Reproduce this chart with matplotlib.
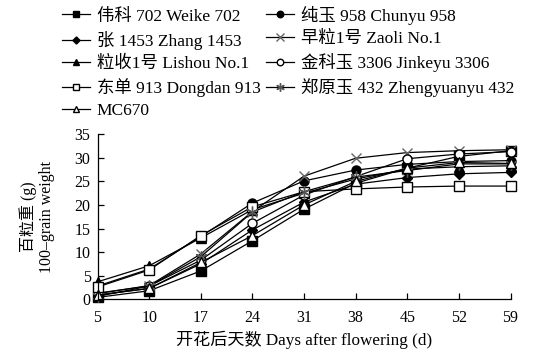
import numpy as np
import matplotlib
matplotlib.use("Agg")
import matplotlib.pyplot as plt

plt.rcParams['font.family'] = ['Liberation Serif', 'Noto Sans CJK SC', 'DejaVu Sans']

# days after flowering (categorical, evenly spaced on the axis)
days = ["5", "10", "17", "24", "31", "38", "45", "52", "59"]

# 100-grain weight (g) for each cultivar
weike702 = [0.4, 1.8, 6.0, 12.4, 19.1, 24.6, 27.8, 30.3, 31.5]
chunyu958 = [2.8, 6.4, 13.3, 20.4, 25.1, 27.4, 28.6, 29.2, 29.4]
zhang1453 = [0.9, 2.3, 7.5, 14.7, 20.6, 24.4, 25.8, 26.6, 26.9]
zaoli1 = [1.2, 2.9, 9.6, 18.6, 26.1, 29.9, 31.1, 31.5, 31.7]
lishou1 = [3.7, 7.1, 13.0, 19.0, 22.5, 25.5, 27.6, 28.1, 28.3]
jinkeyu3306 = [1.3, 2.8, 8.3, 16.1, 22.1, 26.0, 29.8, 30.8, 31.3]
dongdan913 = [2.6, 6.2, 13.5, 19.6, 22.8, 23.4, 23.8, 24.0, 24.0]
zhengyuanyu432 = [0.6, 2.8, 9.0, 18.5, 22.8, 25.9, 27.3, 28.7, 28.7]
mc670 = [0.9, 2.3, 7.8, 13.5, 20.0, 25.0, 27.8, 29.0, 28.8]

labels = ["伟科 702 Weike 702", "纯玉 958 Chunyu 958", "张 1453 Zhang 1453",
          "早粒1号 Zaoli No.1", "粒收1号 Lishou No.1", "金科玉 3306 Jinkeyu 3306",
          "东单 913 Dongdan 913", "郑原玉 432 Zhengyuanyu 432", "MC670"]
series = [weike702, chunyu958, zhang1453, zaoli1, lishou1, jinkeyu3306,
          dongdan913, zhengyuanyu432, mc670]

# marker style per cultivar: (marker, face, edge, size)
styles = [("s", "black", "black", 6.5),
          ("o", "black", "black", 6.5),
          ("D", "black", "black", 5),
          ("x", "none", "#666666", 7.5),
          ("^", "black", "black", 6.5),
          ("o", "white", "black", 6.5),
          ("s", "white", "black", 6.5),
          ((6, 2, 0), "none", "#555555", 8.5),
          ("^", "white", "black", 6.5)]

fig = plt.figure(figsize=(5.51, 3.55), dpi=100)
ax = fig.add_axes([0.177, 0.157, 0.7495, 0.465])

x = np.arange(len(days))
handles = []
for vals, lab, (m, fc, ec, ms) in zip(series, labels, styles):
    h, = ax.plot(x, vals, color="black", lw=0.9, marker=m, markersize=ms,
                 markerfacecolor=fc, markeredgecolor=ec, markeredgewidth=1.0,
                 label=lab, clip_on=False)
    handles.append(h)

ax.set_xlim(0, len(days) - 1)
ax.set_ylim(0, 35)
ax.set_xticks(x)
ax.set_xticklabels(days)
ax.set_yticks(np.arange(0, 36, 5))
for s in ["top", "right"]:
    ax.spines[s].set_visible(False)
for s in ["left", "bottom"]:
    ax.spines[s].set_linewidth(0.9)
ax.tick_params(axis="x", direction="in", length=4, width=0.9, pad=8, labelsize=11.5)
ax.tick_params(axis="y", direction="in", length=4, width=0.9, pad=5, labelsize=11.5)

ax.set_xlabel("开花后天数 Days after flowering (d)", fontsize=12.3, labelpad=3)
fig.text(0.051, 0.39, "百粒重 (g)", rotation=90, ha="center", va="center", fontsize=11.5)
fig.text(0.085, 0.39, "100–grain weight", rotation=90, ha="center", va="center", fontsize=11.5)

# legend in two columns, filled row by row
order = [0, 2, 4, 6, 8, 1, 3, 5, 7]
fig.legend([handles[i] for i in order], [labels[i] for i in order],
           ncol=2, loc="upper left", bbox_to_anchor=(0.1, 1.004),
           frameon=False, fontsize=12.5, handlelength=1.6, handletextpad=0.4,
           columnspacing=0.3, labelspacing=0.35, markerscale=0.72,
           borderaxespad=0.0)

fig.savefig("out.png", dpi=100, facecolor="white")
